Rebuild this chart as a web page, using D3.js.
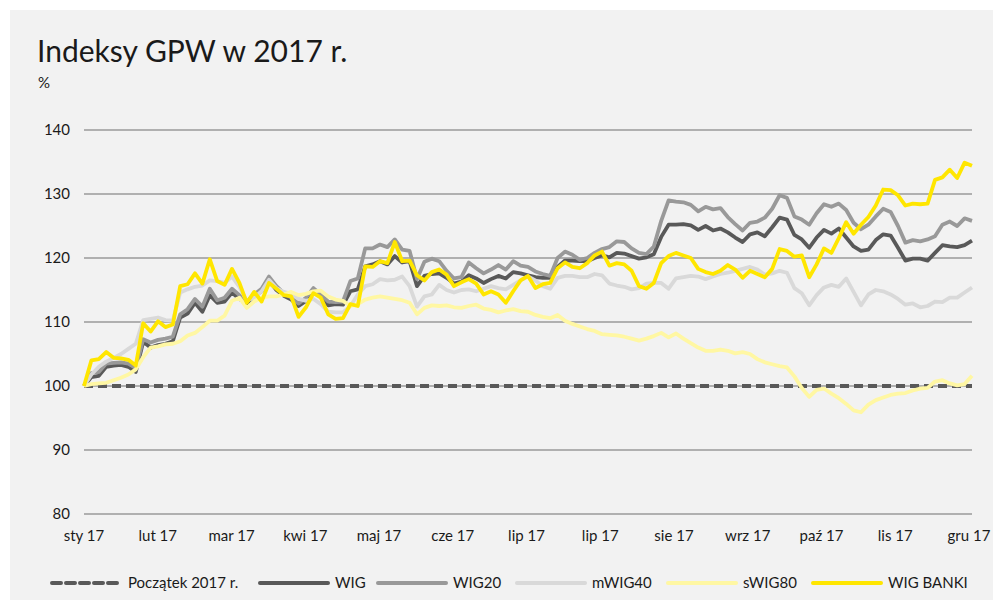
<!DOCTYPE html>
<html>
  <head>
    <meta charset="utf-8">
    <title>Indeksy GPW w 2017 r.</title>
    <style>
      body {
        margin: 0;
        background: #fff;
        font-family: Lato, 'Noto Sans', sans-serif;
      }
      .tick-label {
        font-size: 15px;
        fill: #1a1a1a;
      }
      .legend text {
        font-size: 15px;
        fill: #1a1a1a;
      }
    </style>
  </head>
  <body>
    <svg width="1000" height="609"></svg>
    <script src="https://d3js.org/d3.v7.min.js"></script>
    <script>
      const svg = d3.select('svg');

      const monthLabels = ['sty 17', 'lut 17', 'mar 17', 'kwi 17', 'maj 17', 'cze 17',
        'lip 17', 'lip 17', 'sie 17', 'wrz 17', 'paź 17', 'lis 17', 'gru 17'];
      const yTicks = [80, 90, 100, 110, 120, 130, 140];
      const baseline = [100, 100];

      const wig = [
        100, 101.4, 101.6, 103, 103.2, 103.3, 103, 102.2, 106.9, 106, 106.4, 106.6, 107,
        110.7, 111.3, 113, 111.6, 114.2, 113, 113.2, 114.6, 113.6, 112.9, 114, 114.8,
        116.5, 115, 114.1, 113.5, 112.5, 113.3, 114.8, 113.9, 112.6, 112.8, 112.7, 114.8,
        115.1, 118.7, 119, 119.5, 119, 120.3, 119.3, 119.5, 115.6, 117.2, 117.5, 117.6,
        116.9, 116, 116.3, 117.3, 116.8, 116.1, 116.7, 117.2, 116.8, 117.8, 117.6, 117.3,
        117, 116.9, 116.9, 118.6, 119.6, 119.6, 119.5, 119.5, 120, 120.4, 120.1, 120.8,
        120.7, 120.3, 119.9, 120.1, 120.6, 123.3, 125.2, 125.2, 125.3, 125.1, 124.4, 125,
        124.3, 124.6, 124, 123.2, 122.5, 123.7, 124, 123.4, 124.8, 126.3, 126, 123.6,
        122.9, 121.6, 123.2, 124.4, 123.8, 124.6, 123.2, 121.8, 121.1, 121.3, 122.8, 123.7,
        123.5, 121.6, 119.6, 119.9, 119.9, 119.6, 120.8, 122, 121.8, 121.7, 122, 122.7
      ];
      const wig20 = [
        100, 102, 102.2, 103.5, 103.6, 103.7, 103.5, 102.8, 107.3, 106.8, 107.2, 107.4, 107.7,
        111.2, 112, 113.6, 112.4, 115.2, 113.4, 113.8, 115.2, 114.2, 113.2, 114.3, 115.2,
        117.1, 115.6, 114.5, 113.8, 112.9, 113.8, 115.3, 114.3, 113.2, 113.1, 113.2, 116.4,
        116.8, 121.5, 121.5, 122.1, 121.7, 122.9, 121.3, 121.1, 116.7, 119.4, 119.9, 119.5,
        118, 116.8, 117, 119.3, 118.4, 117.6, 118.2, 118.9, 118.2, 119.5, 118.8, 118.6,
        117.9, 117.5, 117.2, 120, 121, 120.5, 119.7, 120, 120.8, 121.4, 121.7, 122.6,
        122.5, 121.5, 120.8, 120.6, 121.8, 125.8, 129, 128.8, 128.7, 128.3, 127.3, 128,
        127.6, 127.8, 126.4, 125.3, 124.3, 125.5, 125.7, 126.3, 127.7, 129.8, 129.4, 126.5,
        126, 125.2, 127, 128.4, 128, 128.5, 127.5, 125.5, 124.5, 125.2, 126.5, 127.7,
        127.2, 125, 122.4, 122.8, 122.6, 122.9, 123.4, 125.2, 125.7, 125, 126.2, 125.8
      ];
      const mwig40 = [
        100, 101.8, 103, 103.8, 104.4, 105, 105.8, 106.6, 110.3, 110.5, 110.7, 110.3, 110.2,
        114.6, 115.1, 115.5, 115.7, 116.5, 116.4, 116.1, 117.1, 115.5, 113.3, 113.8, 114.8,
        116.6, 115.3, 114.7, 114.4, 113.6, 113.3, 113.6, 112.8, 111.6, 111.5, 111.5, 112.5,
        114.3, 115.6, 115.9, 116.7, 116.5, 116.6, 117.1, 115.6, 112.4, 114, 114.3, 115.8,
        115, 114.6, 115, 115.1, 114.8, 115.2, 115.6, 115.3, 115.1, 115.8, 116.5, 117.1,
        116.5, 115.6, 115.2, 116.9, 117.2, 117.2, 117, 117, 117.5, 117.3, 116, 115.7,
        115.5, 115.1, 115.3, 116, 116.1, 116.1, 115.2, 116.8, 117, 117.2, 117.1, 116.7,
        117.1, 117.5, 117.7, 118, 118.3, 118.6, 118.2, 117.4, 117.6, 118, 117.7, 115.3,
        114.5, 112.6, 114.2, 115.4, 115.8, 115.5, 116.8, 114.7, 112.6, 114.3, 115, 114.8,
        114.3, 113.6, 112.7, 112.9, 112.3, 112.5, 113.2, 113.1, 113.8, 113.8, 114.6, 115.4
      ];
      const swig80 = [
        100, 100.3, 100.4, 100.5, 100.9, 101.3, 101.8, 102.6, 104.5, 106, 106.2, 106.5, 106.6,
        107, 107.9, 108.3, 109.2, 110.2, 110.2, 111, 113.3, 113.8, 112.2, 113.2, 113.8,
        114, 114, 114.3, 114.7, 114.2, 114.4, 114.8, 114.9, 114, 113.5, 113.3, 112.5,
        112.8, 113.5, 113.8, 114, 113.8, 113.6, 113.4, 113, 111.2, 112.2, 112.6, 112.5,
        112.6, 112.3, 112.2, 112.5, 112.7, 112.1, 111.9, 111.5, 111.8, 112, 111.7, 111.6,
        111.1, 110.8, 110.6, 111.1, 110.2, 109.7, 109.3, 108.9, 108.6, 108.1, 108, 107.9,
        107.7, 107.4, 107.1, 107.4, 107.8, 108.3, 107.6, 108.2, 107.4, 106.7, 106, 105.5,
        105.5, 105.7, 105.5, 105.1, 105.3, 105, 104.2, 103.7, 103.4, 103.1, 102.9, 101.5,
        99.7, 98.3, 99.4, 99.6, 98.8, 98.1, 97.2, 96.2, 95.9, 97.1, 97.8, 98.2,
        98.6, 98.8, 98.9, 99.3, 99.6, 99.7, 100.7, 100.9, 100.4, 100.1, 100.3, 101.6
      ];
      const wigBanki = [
        100, 104, 104.2, 105.3, 104.4, 104.3, 104.1, 103.2, 109.8, 108.5, 110.1, 109.2, 109.6,
        115.6, 115.9, 117.6, 116, 119.8, 116.4, 115.8, 118.3, 116.1, 113, 114.7, 113.2,
        116.1, 115.2, 114.2, 114, 110.8, 112.3, 114.5, 113.8, 111.2, 110.5, 110.6, 112.8,
        112.5, 118.7, 118.6, 119.5, 119.2, 122.5, 119.5, 119.6, 117.3, 116.5, 117.8, 118.2,
        117.4, 115.6, 116.2, 116.7, 116, 114.3, 114.8, 114.3, 113, 114.8, 116.5, 117.2,
        115.3, 115.9, 116.1, 118.4, 119.3, 118.6, 118.4, 119.2, 120.4, 121, 118.8, 119.2,
        119, 118, 115.6, 115.2, 116.1, 119.2, 120.3, 120.8, 120.4, 120, 118.3, 117.8,
        117.5, 118, 118.9, 118.2, 116.9, 118, 117.5, 117, 118.3, 121.4, 121.1, 120.2,
        120.4, 117, 119, 121.5, 120.8, 123.1, 125.6, 123.8, 125.2, 126.4, 128.2, 130.7,
        130.6, 129.8, 128.2, 128.5, 128.4, 128.5, 132.2, 132.6, 133.8, 132.5, 134.9, 134.4
      ];

      const series = [
        {name: 'WIG', values: wig, color: '#595959'},
        {name: 'WIG20', values: wig20, color: '#999999'},
        {name: 'mWIG40', values: mwig40, color: '#d9d9d9'},
        {name: 'sWIG80', values: swig80, color: '#fff7a3'},
        {name: 'WIG BANKI', values: wigBanki, color: '#ffe600'}
      ];

      // background panel
      svg.append('rect')
        .attr('x', 10).attr('y', 10)
        .attr('width', 983).attr('height', 590)
        .attr('fill', '#f2f2f2');

      svg.append('text')
        .attr('x', 37).attr('y', 62)
        .attr('font-size', 30)
        .attr('fill', '#1a1a1a')
        .text('Indeksy GPW w 2017 r.');

      svg.append('text')
        .attr('x', 38).attr('y', 88)
        .attr('font-size', 15)
        .attr('fill', '#1a1a1a')
        .text('%');

      const n = wig.length;
      const x = d3.scaleLinear().domain([0, n - 1]).range([84, 972]);
      const y = d3.scaleLinear().domain([80, 140]).range([514, 130]);
      const xLab = d3.scalePoint().domain(d3.range(monthLabels.length)).range([84, 969]);

      // grid
      svg.append('g')
        .selectAll('line')
        .data(yTicks)
        .join('line')
          .attr('x1', 84).attr('x2', 972)
          .attr('y1', d => y(d)).attr('y2', d => y(d))
          .attr('stroke', '#b0b0b0')
          .attr('stroke-width', 2);

      svg.append('g')
        .selectAll('text')
        .data(yTicks)
        .join('text')
          .attr('class', 'tick-label')
          .attr('x', 70)
          .attr('y', d => y(d) + 5)
          .attr('text-anchor', 'end')
          .text(d => d);

      svg.append('g')
        .selectAll('text')
        .data(monthLabels)
        .join('text')
          .attr('class', 'tick-label')
          .attr('x', (d, i) => xLab(i))
          .attr('y', 541)
          .attr('text-anchor', 'middle')
          .text(d => d);

      const line = d3.line()
        .x((d, i, arr) => x(i * (n - 1) / (arr.length - 1)))
        .y(d => y(d));

      svg.append('path')
        .datum(baseline)
        .attr('d', line)
        .attr('fill', 'none')
        .attr('stroke', '#595959')
        .attr('stroke-width', 3.8)
        .attr('stroke-dasharray', '9,5');

      svg.append('g')
        .selectAll('path')
        .data(series)
        .join('path')
          .attr('d', d => line(d.values))
          .attr('fill', 'none')
          .attr('stroke', d => d.color)
          .attr('stroke-width', 3.8)
          .attr('stroke-linejoin', 'round');

      // legend
      const legendItems = [
        {name: 'Początek 2017 r.', color: '#595959', dash: '9,5', x: 52},
        {name: 'WIG', color: '#595959', x: 260},
        {name: 'WIG20', color: '#999999', x: 378},
        {name: 'mWIG40', color: '#d9d9d9', x: 517},
        {name: 'sWIG80', color: '#fff7a3', x: 668},
        {name: 'WIG BANKI', color: '#ffe600', x: 813}
      ];
      const legend = svg.append('g').attr('class', 'legend');
      const item = legend.selectAll('g')
        .data(legendItems)
        .join('g')
          .attr('transform', d => `translate(${d.x},583)`);
      item.append('line')
        .attr('x1', 0).attr('x2', d => d.dash ? 70 : 68)
        .attr('stroke', d => d.color)
        .attr('stroke-width', 4)
        .attr('stroke-linecap', 'round')
        .attr('stroke-dasharray', d => d.dash || null);
      item.append('text')
        .attr('x', d => d.dash ? 76 : 75)
        .attr('y', 5)
        .attr('font-size', 15)
        .text(d => d.name);
    </script>
  </body>
</html>
